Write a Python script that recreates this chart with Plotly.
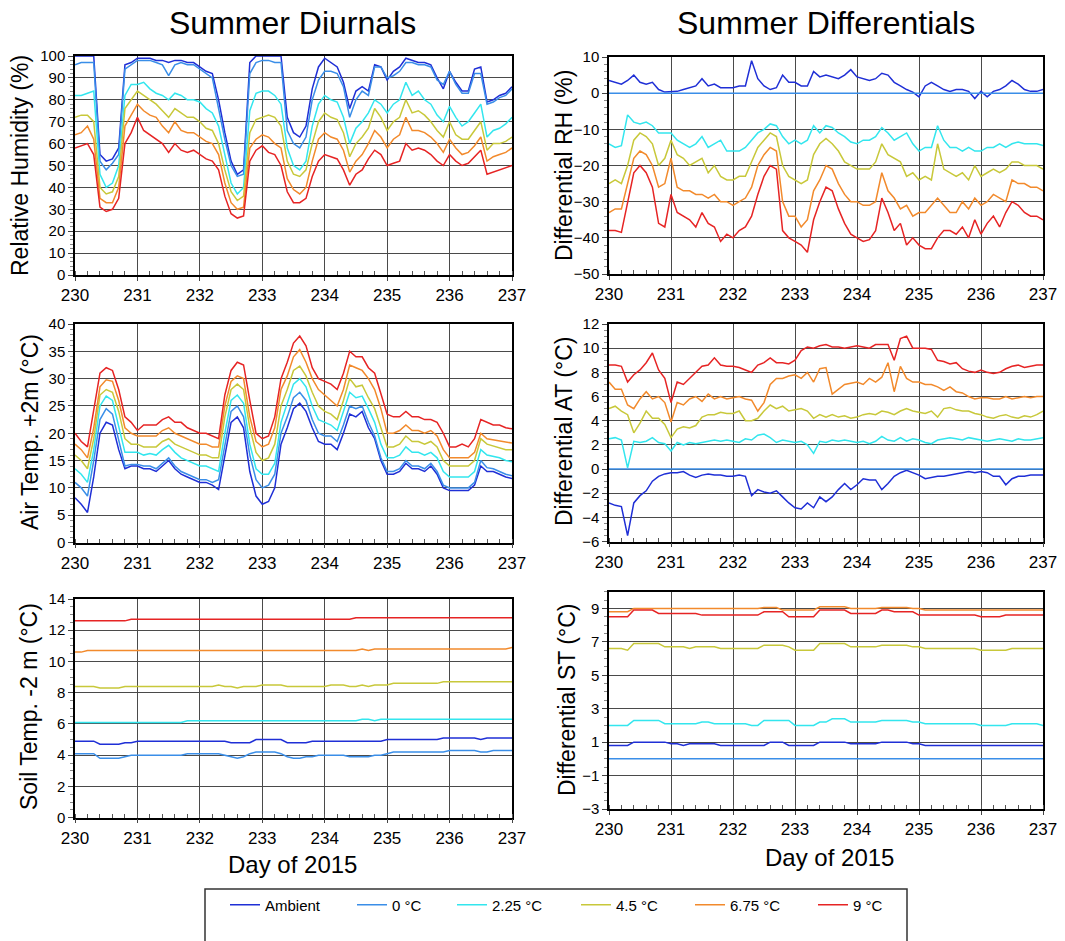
import plotly.graph_objects as go

W, H = 1065, 941
FONT = "Liberation Sans, Arial, Helvetica, sans-serif"

# ---------------- data ----------------
DAYS = [round(230 + i * 0.1, 1) for i in range(71)]
NAMES = ["Ambient", "0 °C", "2.25 °C", "4.5 °C", "6.75 °C", "9 °C"]
COLORS = ["#1f2fd6", "#3a8ee8", "#33e6ee", "#c8c83a", "#f28a2c", "#e62424"]

RH_AMB = [100,100,100,100,55,52,53,58,96,97, 99,99,99,98,98,97,98,98,97,97,
          95,93,92,80,65,52,46,48,97,100, 100,100,100,100,72,65,63,68,85,95,
          99,97,95,88,76,84,86,84,96,95, 89,93,95,99,98,97,97,96,90,85,
          93,88,84,84,94,95,79,80,82,83, 86]
RH_0 = [96,97,97,97,52,48,51,55,94,96, 98,98,98,97,96,91,96,97,96,96,
        94,92,90,76,62,50,45,46,92,97, 98,98,97,97,66,60,58,63,80,89,
        93,93,92,86,72,80,84,82,95,95, 90,91,93,97,97,96,96,95,89,87,
        93,87,83,83,92,92,78,79,81,82, 85]
RH_225 = [82,82,83,84,46,40,42,50,82,87, 87,88,85,83,82,80,83,82,80,80,
          79,76,74,68,55,42,37,40,75,83, 84,84,82,78,58,50,48,52,68,78,
          82,80,79,72,60,67,70,74,80,78, 74,78,80,88,82,84,80,78,73,70,
          77,72,68,70,74,78,63,66,67,69, 72]
RH_45 = [72,73,73,70,40,37,38,45,76,80, 84,82,80,78,75,72,76,74,72,72,
         70,67,66,60,48,38,34,36,65,71, 72,73,72,68,52,46,45,48,60,70,
         74,72,71,65,54,60,63,67,76,72, 66,70,72,80,74,75,73,70,66,63,
         70,64,62,62,66,70,57,60,60,61, 63]
RH_675 = [64,65,68,62,35,33,33,40,68,73, 78,75,73,72,68,65,70,66,65,65,
          63,61,60,55,42,33,30,31,58,62, 64,63,60,58,44,39,37,40,52,62,
          65,63,62,57,47,52,55,60,66,63, 58,62,64,72,66,66,65,63,60,56,
          62,58,55,56,59,63,52,54,55,56, 58]
RH_9 = [58,59,60,55,31,29,30,35,60,65, 72,66,64,62,60,56,60,57,56,57,
        55,53,52,48,36,28,26,27,52,57, 59,56,55,50,38,33,33,35,45,52,
        55,54,53,48,41,46,48,53,57,55, 50,51,52,60,57,58,57,55,52,50,
        55,52,50,51,54,57,46,47,48,49, 50]

DRH_AMB = [3.5,3,2.5,3.5,5,3,2.5,3,1,0.3, 0.3,0.5,1,1.5,2,4,2,2.5,1.5,1.5,
           1.5,2,2,9,4,2,1,1.5,5,3, 3,2,2,6,4.5,5,4.5,4,5,6.5,
           4.5,4,3.5,4,5.5,5,3,2,1,0.3, -1,2,3,2,1,0.5,1,1,0.5,-1.5,
           0.5,-1,0.5,1,2,3.5,2.5,1,0.5,0.5, 1]
DRH_0 = [0.0] * 71
DRH_225 = [-14,-15,-14.5,-6,-8,-8.5,-8,-9,-11,-11, -11,-13,-14,-15,-14,-12,-15,-14,-13,-16,
           -16,-16,-15,-13,-11,-10,-8.5,-9,-12,-14, -13,-14,-13,-9,-11,-9,-9.5,-11,-12,-13.5,
           -14,-13,-13,-12,-9.5,-11,-13,-12,-11,-14, -16,-15,-15,-9,-13,-15,-15,-16,-15,-16,
           -16,-15,-15,-14,-15,-14,-13.5,-14,-14,-14, -14.5]
DRH_45 = [-25,-24,-25,-20,-13,-11,-12,-14,-20,-18, -13,-17,-18,-20,-19,-18,-22,-20,-23,-24,
          -24,-23,-23,-19,-15,-13,-11,-12,-20,-23, -24,-25,-24,-17,-14,-12.5,-14,-16,-19,-20,
          -21,-21,-21,-19,-14,-17,-18,-19,-23,-22, -24,-23,-24,-14,-21,-22,-23,-22,-24,-20,
          -23,-22,-21,-22,-21,-19,-19,-20,-20,-20, -21]
DRH_675 = [-33,-32,-32,-25,-18,-16,-17,-20,-26,-25, -18,-26,-27,-27,-28,-28,-29,-28,-30,-30,
           -31,-30,-29,-26,-20,-17,-15,-16,-30,-34, -34,-37,-35,-27,-24,-20,-21,-25,-28,-30,
           -30,-31,-31,-30,-22,-27,-29,-32,-31,-34, -33,-33,-31,-29,-31,-33,-33,-30,-32,-29,
           -31,-30,-28,-29,-30,-24,-25,-25,-26,-26, -27]
DRH_9 = [-38,-38,-38.5,-30,-22,-20,-22,-26,-36,-37, -28,-33,-34,-35,-37,-33,-36,-37,-41,-39,
         -40,-38,-37,-34,-28,-23,-20,-21,-38,-40, -41,-42,-44,-35,-30,-26,-27,-32,-36,-39,
         -40,-41,-40.5,-38,-29,-33,-38,-36,-42,-40, -42,-43,-43,-40,-38,-38,-39,-37,-40,-35,
         -39,-36,-34,-37,-33,-30,-31,-33,-34,-34, -35]

AT_AMB = [8.2,7,5.5,12,20,22,21.5,17,13.5,14, 14,13.5,13.5,13,14,15,13.5,12.5,12,11.5,
          11,11,10.5,9.7,16,22,23,21,13,8.5, 7,7.5,10,18,21,24.5,25.5,24,21,18.5,
          18,18,17,20,23.5,23,24,21,19,15, 12.5,12.5,13,14.5,13.5,13.5,13,14,12.5,10,
          9.5,9.5,9.5,9.5,10.5,14,13,13,12.5,12, 11.7]
AT_0 = [11,10,8.5,15,22.5,24.5,23.5,19,14,14.3, 14.3,14,14,13.5,14.5,15.5,14,13,12.5,12,
        11.5,11.5,11,11.5,18,24,25,23,16,11.5, 10,10.5,12.5,20,23,26.5,27.5,26,22.5,20,
        19.5,19.5,18.5,21.5,25,24.5,25,22,19.5,15.5, 13,13,13.5,15,14,14,13.5,14.5,13,10.5,
        10,10,10,10,11,15,13.7,13.5,13,12.5, 12.2]
AT_225 = [13.5,12.5,11,17,25,26.8,26,21,16.5,16.5, 16.5,16,16.3,16,17,17.8,16.5,15.5,15,14.5,
          14,14,13.5,13,20,26,27,25.5,18,13.5, 12.5,12.5,14.5,22,25.5,29,30,28.5,25,22.5,
          22,21.5,20.5,24,27.5,26.5,26.8,24.5,22,18, 15.5,15.5,16,17.5,16.5,16.5,16,16.5,15.5,13,
          12,12,12,12,13,17,16,15.7,15.5,15, 14.8]
AT_45 = [16,15,13.5,19,27,28,27.5,24,19,18, 18,17.5,17.5,17.5,18.5,19,18,17.5,17,16.5,
         16,16,15.5,15.5,23,28,29,28,21,16.5, 15,15.5,18,25,28,31.5,32.3,30.5,27.5,25,
         24,23.5,22.5,26,30,28.5,28.8,26.5,24.5,21, 17.5,17.5,18,19.5,18.5,18.5,18,18.5,17.5,15,
         14,14,14,14,15,19,18,17.7,17.3,17, 17]
AT_675 = [18,17,15.5,21,28.5,29.8,29.5,26,21,20, 19.5,19.5,19.5,19.5,20.5,21,20,19.5,19,18.5,
          18,18,17.5,17.5,25,29.5,30.5,30,23,18.5, 17.5,18,21,28,30.5,34,35.3,33,30,28,
          27,26,25,28,32.5,32,31.5,30,28,24.5, 20,20,20.5,21.5,20.5,20.5,20,20.5,19.5,17,
          15.5,15.5,15.5,15.5,16.5,20,19,18.8,18.5,18.3, 18.2]
AT_9 = [20,18.5,17.5,24,31,32,31.5,28,23,22, 20.5,21.5,21.5,21.5,22.5,23,22,22,21,20.5,
        20,20,19.5,19,27,31.5,33,32.5,26,20, 19,19.5,23,30,33,36.5,37.8,36,32,30,
        29.5,29,28,31,35,34,34,32,31,27, 23.5,23,23,24,23,23,22.5,22.5,22,20,
        17.5,17.5,18,17.5,19,22.5,22,21.5,21.5,21, 20.8]

DAT_AMB = [-2.8,-3,-3.1,-5.5,-2.8,-2.2,-1.8,-1,-0.6,-0.4, -0.3,-0.3,-0.2,-0.5,-0.7,-0.5,-0.4,-0.5,-0.5,-0.6,
           -0.6,-0.5,-0.6,-2.2,-1.7,-1.9,-2,-1.8,-2.3,-2.8, -3.2,-3.3,-2.8,-3.2,-2.3,-2.7,-2.3,-1.7,-1.2,-1.7,
           -1.3,-0.8,-0.9,-0.9,-1.7,-1.2,-0.6,-0.3,-0.1,-0.3, -0.5,-0.8,-0.7,-0.6,-0.6,-0.5,-0.4,-0.3,-0.2,-0.3,
           -0.2,-0.3,-0.6,-0.6,-1.3,-0.8,-0.6,-0.6,-0.5,-0.5, -0.5]
DAT_0 = [0.0] * 71
DAT_225 = [2.5,2.6,2.4,0.1,2.3,2.2,2.3,2.6,2.2,2.1, 1.5,2.2,2.0,2.2,2.1,2.2,2.3,2.4,2.3,2.4,
           2.3,2.2,2.5,2.4,2.8,2.9,2.6,2.2,2.4,2.3, 2.2,2.3,2.0,1.3,2.3,2.2,2.4,2.3,2.4,2.3,
           2.2,2.3,2.1,2.3,2.7,2.4,2.3,2.6,2.3,2.5, 2.4,2.2,2.1,2.4,2.5,2.6,2.5,2.4,2.6,2.5,
           2.4,2.3,2.4,2.5,2.4,2.3,2.5,2.4,2.4,2.5, 2.6]
DAT_45 = [5,5.2,4.8,4.5,3.0,3.8,4.8,4.2,4.2,3.7, 2.6,3.3,3.5,3.4,3.6,4.3,4.5,4.5,4.7,4.6,
          4.6,4.8,4.0,4.0,4.2,4.8,5.3,5.0,5.2,4.8, 4.9,5.0,4.8,4.2,4.5,4.3,4.5,4.3,4.4,4.2,
          4.3,4.5,4.6,4.5,4.8,4.7,4.5,4.8,5.0,4.8, 4.7,4.6,4.8,4.3,5.0,5.1,4.9,4.8,4.8,4.6,
          4.5,4.3,4.2,4.4,4.5,4.3,4.2,4.4,4.3,4.5, 4.8]
DAT_675 = [7.2,6.6,6.6,5.3,5.0,5.8,6.4,5.8,6.0,5.5, 3.9,5.5,5.3,5.8,6.0,5.6,6.2,5.8,6.0,5.8,
           5.9,6.0,5.8,5.7,4.8,5.5,7.0,7.5,7.5,7.7, 7.8,7.5,8.0,7.2,8.3,8.4,6.2,6.6,7.0,7.1,
           7.2,7.0,7.5,7.2,7.6,8.8,6.4,8.5,7.5,7.2, 7.2,7.0,7.0,6.8,6.5,6.8,6.4,6.3,6.0,5.8,
           5.9,5.9,5.8,5.8,6.0,5.8,5.9,6.0,5.9,6.0, 6.0]
DAT_9 = [8.6,8.6,8.5,7.2,7.8,8.2,8.8,9.6,8.2,7.5, 5.5,7.2,7.0,7.5,8.0,8.5,8.6,9.2,8.6,8.5,
         8.5,8.4,8.2,8.0,8.6,8.8,9.2,8.8,8.8,8.7, 9.0,9.8,10.1,10.0,10.2,10.3,10.1,10.1,10.0,10.1,
         10.2,10.1,10.0,10.3,10.3,10.3,9.0,10.8,11.0,10.0, 10.0,10.0,9.9,9.0,8.9,8.7,8.8,8.3,8.1,8.0,
         8.2,8.0,7.9,8.0,8.3,8.5,8.6,8.4,8.5,8.6, 8.6]

ST_AMB = [4.9,4.9,4.9,4.9,4.7,4.7,4.7,4.7,4.8,4.8, 4.9,4.9,4.9,4.9,4.9,4.9,4.9,4.9,4.9,4.9,
          4.9,4.9,4.9,4.9,4.9,4.8,4.8,4.8,4.8,5.0, 5.0,5.0,5.0,5.0,4.8,4.8,4.8,4.8,4.9,4.9,
          4.9,4.9,4.9,4.9,4.9,4.9,4.9,4.9,4.9,4.9, 5.0,5.0,5.0,5.0,5.0,5.0,5.0,5.0,5.0,5.1,
          5.1,5.1,5.1,5.1,5.1,5.0,5.1,5.1,5.1,5.1, 5.1]
ST_0 = [4.1,4.1,4.1,4.1,3.8,3.8,3.8,3.8,3.9,4.0, 4.0,4.0,4.0,4.0,4.0,4.0,4.0,4.0,4.1,4.1,
        4.1,4.1,4.1,4.1,4.0,3.9,3.8,3.9,4.1,4.2, 4.2,4.2,4.2,4.1,3.9,3.8,3.8,3.9,3.9,4.0,
        4.0,4.0,4.0,4.0,3.9,3.9,3.9,3.9,4.0,4.0, 4.1,4.2,4.2,4.2,4.2,4.2,4.2,4.2,4.2,4.2,
        4.3,4.3,4.3,4.3,4.3,4.2,4.2,4.3,4.3,4.3, 4.3]
ST_225 = [6.1,6.1,6.1,6.1,6.1,6.1,6.1,6.1,6.1,6.1, 6.1,6.1,6.1,6.1,6.1,6.1,6.1,6.1,6.2,6.2,
          6.2,6.2,6.2,6.2,6.2,6.2,6.2,6.2,6.2,6.2, 6.2,6.2,6.2,6.2,6.2,6.2,6.2,6.2,6.2,6.2,
          6.2,6.2,6.2,6.2,6.2,6.2,6.3,6.3,6.2,6.3, 6.3,6.3,6.3,6.3,6.3,6.3,6.3,6.3,6.3,6.3,
          6.3,6.3,6.3,6.3,6.3,6.3,6.3,6.3,6.3,6.3, 6.3]
ST_45 = [8.4,8.4,8.4,8.4,8.3,8.3,8.3,8.3,8.4,8.4, 8.4,8.4,8.4,8.4,8.4,8.4,8.4,8.4,8.4,8.4,
         8.4,8.4,8.4,8.5,8.4,8.4,8.3,8.4,8.4,8.4, 8.5,8.5,8.5,8.5,8.4,8.4,8.4,8.4,8.4,8.4,
         8.4,8.5,8.5,8.5,8.4,8.4,8.5,8.4,8.5,8.5, 8.5,8.6,8.6,8.6,8.6,8.6,8.6,8.6,8.6,8.7,
         8.7,8.7,8.7,8.7,8.7,8.7,8.7,8.7,8.7,8.7, 8.7]
ST_675 = [10.6,10.6,10.7,10.7,10.7,10.7,10.7,10.7,10.7,10.7, 10.7,10.7,10.7,10.7,10.7,10.7,10.7,10.7,10.7,10.7,
          10.7,10.7,10.7,10.7,10.7,10.7,10.7,10.7,10.7,10.7, 10.7,10.7,10.7,10.7,10.7,10.7,10.7,10.7,10.7,10.7,
          10.7,10.7,10.7,10.7,10.7,10.7,10.8,10.7,10.8,10.8, 10.8,10.8,10.8,10.8,10.8,10.8,10.8,10.8,10.8,10.8,
          10.8,10.8,10.8,10.8,10.8,10.8,10.8,10.8,10.8,10.8, 10.9]
ST_9 = [12.6,12.6,12.6,12.6,12.6,12.6,12.6,12.6,12.6,12.7, 12.7,12.7,12.7,12.7,12.7,12.7,12.7,12.7,12.7,12.7,
        12.7,12.7,12.7,12.7,12.7,12.7,12.7,12.7,12.7,12.7, 12.7,12.7,12.7,12.7,12.7,12.7,12.7,12.7,12.7,12.7,
        12.7,12.7,12.7,12.7,12.7,12.8,12.8,12.8,12.8,12.8, 12.8,12.8,12.8,12.8,12.8,12.8,12.8,12.8,12.8,12.8,
        12.8,12.8,12.8,12.8,12.8,12.8,12.8,12.8,12.8,12.8, 12.8]

DST_AMB = [0.8,0.8,0.8,0.8,1.0,1.0,1.0,1.0,1.0,1.0, 0.9,0.9,0.8,0.9,0.9,0.9,0.9,0.9,0.8,0.8,
           0.8,0.8,0.8,0.8,0.8,0.8,1.0,1.0,1.0,0.8, 0.8,0.8,0.8,0.8,1.0,1.0,1.0,1.0,1.0,0.9,
           0.9,0.9,0.9,0.9,1.0,1.0,1.0,1.0,1.0,0.9, 0.9,0.8,0.8,0.8,0.8,0.8,0.8,0.8,0.8,0.8,
           0.8,0.8,0.8,0.8,0.8,0.8,0.8,0.8,0.8,0.8, 0.8]
DST_0 = [0.0] * 71
DST_225 = [2.0,2.0,2.0,2.0,2.3,2.3,2.3,2.3,2.3,2.1, 2.1,2.1,2.1,2.1,2.1,2.2,2.2,2.1,2.1,2.1,
           2.1,2.1,2.1,2.0,2.0,2.3,2.3,2.3,2.3,2.3, 2.0,2.0,2.0,2.0,2.2,2.2,2.4,2.4,2.4,2.2,
           2.2,2.2,2.2,2.2,2.3,2.3,2.3,2.3,2.3,2.2, 2.2,2.1,2.1,2.1,2.1,2.1,2.1,2.1,2.1,2.1,
           2.0,2.0,2.0,2.0,2.0,2.1,2.1,2.1,2.1,2.1, 2.0]
DST_45 = [6.6,6.6,6.6,6.5,6.9,6.9,6.9,6.9,6.9,6.7, 6.7,6.7,6.7,6.6,6.7,6.7,6.7,6.7,6.6,6.6,
          6.6,6.6,6.6,6.6,6.6,6.8,6.8,6.8,6.8,6.7, 6.5,6.5,6.5,6.5,6.9,6.9,6.9,6.9,6.9,6.7,
          6.7,6.7,6.7,6.7,6.8,6.8,6.8,6.8,6.8,6.7, 6.7,6.6,6.6,6.6,6.6,6.6,6.6,6.6,6.6,6.6,
          6.5,6.5,6.5,6.5,6.5,6.6,6.6,6.6,6.6,6.6, 6.6]
DST_675 = [8.8,8.8,8.8,8.8,9.0,9.0,9.0,9.0,9.0,9.0, 9.0,9.0,9.0,9.0,9.0,9.0,9.0,9.0,9.0,9.0,
           9.0,9.0,9.0,9.0,9.0,9.05,9.05,9.05,8.9,8.9, 8.9,8.9,8.9,8.9,9.1,9.1,9.1,9.1,9.1,9.0,
           9.0,9.0,9.0,9.0,9.05,9.05,9.05,9.05,9.05,9.0, 9.0,8.9,8.9,8.9,8.9,8.9,8.9,8.9,8.9,8.9,
           8.9,8.9,8.9,8.9,8.9,8.9,8.9,8.9,8.9,8.9, 8.9]
DST_9 = [8.5,8.5,8.5,8.5,8.9,8.9,8.9,8.9,8.7,8.7, 8.7,8.7,8.7,8.7,8.7,8.6,8.6,8.6,8.6,8.6,
         8.6,8.6,8.6,8.6,8.6,8.8,8.8,8.8,8.8,8.5, 8.5,8.5,8.5,8.5,8.9,8.9,8.9,8.9,8.9,8.7,
         8.7,8.7,8.7,8.7,8.9,8.9,8.8,8.8,8.8,8.8, 8.6,8.6,8.6,8.6,8.6,8.6,8.6,8.6,8.6,8.6,
         8.5,8.5,8.5,8.5,8.6,8.6,8.6,8.6,8.6,8.6, 8.6]

PANELS = [
    [RH_AMB, RH_0, RH_225, RH_45, RH_675, RH_9],
    [DRH_AMB, DRH_0, DRH_225, DRH_45, DRH_675, DRH_9],
    [AT_AMB, AT_0, AT_225, AT_45, AT_675, AT_9],
    [DAT_AMB, DAT_0, DAT_225, DAT_45, DAT_675, DAT_9],
    [ST_AMB, ST_0, ST_225, ST_45, ST_675, ST_9],
    [DST_AMB, DST_0, DST_225, DST_45, DST_675, DST_9],
]
Y_TITLES = ["Relative Humidity (%)", "Differential RH (%)", "Air Temp. +2m (°C)",
            "Differential AT (°C)", "Soil Temp. -2 m (°C)", "Differential ST (°C)"]

# ---------------- layout geometry (pixels) ----------------
BOX = [(75, 512, 56, 275), (609, 1043, 57, 274),
       (75, 512, 324, 542.5), (609, 1043, 324, 541.6),
       (75, 512, 599, 817.7), (609, 1043, 591.7, 809)]
YAX = [dict(range=[0, 100], dtick=10, tick0=0, minor=2),
       dict(range=[-50, 10], dtick=10, tick0=0, minor=2),
       dict(range=[0, 40], dtick=5, tick0=0, minor=1),
       dict(range=[-6, 12], dtick=2, tick0=0, minor=0.5),
       dict(range=[0, 14], dtick=2, tick0=0, minor=0.5),
       dict(range=[-3, 10], dtick=2, tick0=-3, minor=0.5)]
YTITLE_POS = [(20, 166), (564, 166), (30, 432), (564, 432), (29, 707), (567, 700)]

def px(x): return x / W
def py(y): return 1 - y / H

fig = go.Figure()
for p, series in enumerate(PANELS):
    ax = "" if p == 0 else str(p + 1)
    for s, vals in enumerate(series):
        fig.add_trace(go.Scatter(
            x=DAYS, y=vals, mode="lines", name=NAMES[s],
            line=dict(color=COLORS[s], width=1.5),
            xaxis="x" + ax, yaxis="y" + ax,
            showlegend=(p == 0),
            legend="legend" if s == 0 else "legend%d" % (s + 1),
        ))

layout = dict(
    width=W, height=H, margin=dict(l=0, r=0, t=0, b=0, pad=0, autoexpand=False),
    paper_bgcolor="white", plot_bgcolor="white",
    font=dict(family=FONT, color="black"),
    annotations=[], shapes=[],
)
for p in range(6):
    l, r, t, b = BOX[p]
    n = "" if p == 0 else str(p + 1)
    ya = YAX[p]
    layout["xaxis" + n] = dict(
        domain=[px(l), px(r)], range=[230, 237], anchor="y" + n, automargin=False,
        tick0=230, dtick=1, showgrid=True, gridcolor="#4a4a4a", gridwidth=1,
        showline=True, linecolor="black", linewidth=1.5, mirror=True,
        ticks="outside", ticklen=4, tickcolor="#444", tickfont=dict(size=17), zeroline=False,
        minor=dict(dtick=0.2, tick0=230, ticks="inside", ticklen=4,
                   tickcolor="#555", showgrid=False),
    )
    layout["yaxis" + n] = dict(
        domain=[py(b), py(t)], range=ya["range"], anchor="x" + n, automargin=False,
        tick0=ya["tick0"], dtick=ya["dtick"], showgrid=True, gridcolor="#4a4a4a",
        gridwidth=1, showline=True, linecolor="black", linewidth=1.5, mirror=True,
        ticks="outside", ticklen=5, tickcolor="#444", tickfont=dict(size=15),
        zeroline=False,
        minor=dict(dtick=ya["minor"], tick0=ya["tick0"], ticks="outside", ticklen=3,
                   tickcolor="#888", showgrid=False),
    )
    tx, ty = YTITLE_POS[p]
    layout["annotations"].append(dict(
        text=Y_TITLES[p], x=px(tx), y=py(ty), xref="paper", yref="paper",
        showarrow=False, textangle=-90, font=dict(size=23),
        xanchor="center", yanchor="middle"))

for txt, x, y, sz in [("Summer Diurnals", 292, 23, 32), ("Summer Differentials", 826, 23, 32),
                      ("Day of 2015", 292, 864, 24), ("Day of 2015", 829, 857, 24)]:
    layout["annotations"].append(dict(
        text=txt, x=px(x), y=py(y), xref="paper", yref="paper", showarrow=False,
        font=dict(size=sz), xanchor="center", yanchor="middle"))

# legend frame
layout["shapes"].append(dict(type="rect", xref="paper", yref="paper",
                             x0=px(205), x1=px(907), y0=py(960), y1=py(889),
                             line=dict(color="#333", width=1.5), fillcolor="rgba(0,0,0,0)"))

# one legend per entry so each can be placed exactly
TEXT_X = [267, 394, 494, 618, 732, 855]
for s in range(6):
    key = "legend" if s == 0 else "legend%d" % (s + 1)
    layout[key] = dict(
        x=px(TEXT_X[s] - 42), y=py(905), xanchor="left", yanchor="middle",
        orientation="h", bgcolor="rgba(0,0,0,0)", borderwidth=0,
        font=dict(size=15, family=FONT), itemwidth=30,
    )

fig.update_layout(**layout)
fig.write_html("out.html")
